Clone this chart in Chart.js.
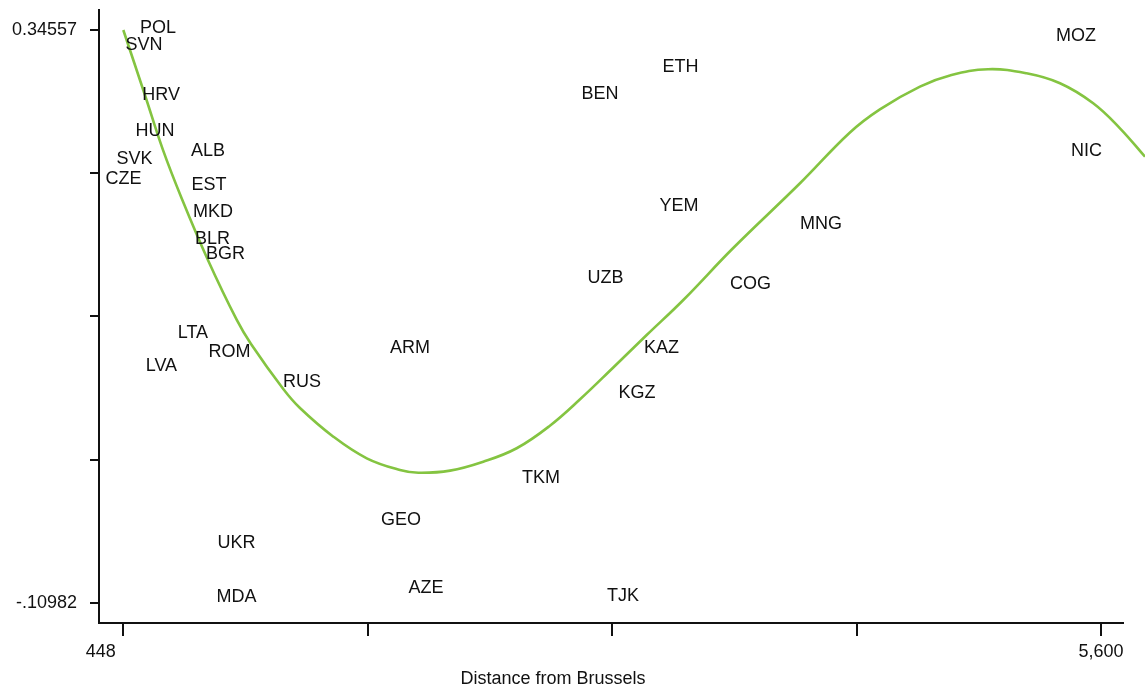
<!DOCTYPE html>
<html>
<head>
<meta charset="utf-8">
<script src="https://cdn.jsdelivr.net/npm/chart.js@4.4.1/dist/chart.umd.min.js"></script>
<style>
  html, body { margin: 0; padding: 0; background: #ffffff; }
  canvas { display: block; }
</style>
</head>
<body>
<canvas id="chart" width="1145" height="688"></canvas>
<script>
// Country markers: ISO-style code, distance from Brussels (km), outcome value
const countryCodes = ['POL', 'SVN', 'HRV', 'HUN', 'ALB', 'SVK', 'CZE', 'EST', 'MKD', 'BLR', 'BGR',
  'LTA', 'ROM', 'LVA', 'RUS', 'ARM', 'UKR', 'MDA', 'GEO', 'AZE', 'TJK', 'TKM', 'KGZ', 'KAZ',
  'UZB', 'BEN', 'ETH', 'YEM', 'COG', 'MNG', 'MOZ', 'NIC'];
const distances = [631, 557, 647, 615, 894, 507, 449, 900, 921, 918, 987,
  815, 1008, 649, 1390, 1959, 1045, 1045, 1911, 2043, 3081, 2649, 3155, 3284,
  2989, 2960, 3384, 3376, 3753, 4125, 5468, 5524];
const values = [0.3480, 0.3344, 0.2947, 0.2661, 0.2502, 0.2434, 0.2275, 0.2227, 0.2020, 0.1798, 0.1679,
  0.1054, 0.0899, 0.0788, 0.0665, 0.0931, -0.0612, -0.1049, -0.0433, -0.0973, -0.1041, -0.0095, 0.0573, 0.0931,
  0.1488, 0.2951, 0.3173, 0.2064, 0.1444, 0.1921, 0.3416, 0.2502];

// Fitted curve, sampled along the distance range
const fitDistances = [448, 562, 657, 757, 894, 1046, 1121, 1291, 1379, 1555, 1731, 1906, 2003, 2170,
  2345, 2521, 2696, 2855, 3030, 3206, 3399, 3662, 4014, 4277, 4435, 4646, 4804, 5005, 5208, 5384,
  5559, 5700, 5832];
const fitValues = [0.34557, 0.2939, 0.2502, 0.2112, 0.1627, 0.1150, 0.0959, 0.0601, 0.0450, 0.0222, 0.0050,
  -0.0043, -0.0065, -0.0048, 0.0023, 0.0130, 0.0309, 0.0519, 0.0772, 0.1030, 0.1309, 0.1722, 0.2237, 0.2641,
  0.2825, 0.3006, 0.3094, 0.3144, 0.3111, 0.3032, 0.2873, 0.2674, 0.2448];

// Axis ticks
const xTickValues = [448, 1736, 3024, 4312, 5600];
const xTickLabels = ['448         ', '', '', '', '5,600'];
const yTickValues = [-0.10982, 0.004028, 0.117875, 0.231723, 0.34557];
const yTickLabels = ['-.10982', '', '', '', '0.34557'];
const xAxisTitle = 'Distance from Brussels';

const FONT = "'Liberation Sans', Arial, Helvetica, sans-serif";
const INK = '#111111';
const FIT_GREEN = '#84c441';

// Writes each country code centred on its point
const codeLabels = {
  id: 'codeLabels',
  afterDatasetsDraw(chart) {
    const ctx = chart.ctx;
    const meta = chart.getDatasetMeta(0);
    ctx.save();
    ctx.font = '18px ' + FONT;
    ctx.fillStyle = INK;
    ctx.textAlign = 'center';
    ctx.textBaseline = 'middle';
    meta.data.forEach((pt, i) => {
      ctx.fillText(countryCodes[i], pt.x, pt.y + 1);
    });
    ctx.restore();
  }
};

// Horizontal axis caption under the tick labels
const axisCaption = {
  id: 'axisCaption',
  afterDraw(chart) {
    const ctx = chart.ctx;
    ctx.save();
    ctx.font = '18px ' + FONT;
    ctx.fillStyle = INK;
    ctx.textAlign = 'center';
    ctx.textBaseline = 'middle';
    ctx.fillText(xAxisTitle, 553, 679);
    ctx.restore();
  }
};

new Chart(document.getElementById('chart'), {
  type: 'scatter',
  data: {
    datasets: [
      {
        label: 'Countries',
        data: distances.map((d, i) => ({ x: d, y: values[i] })),
        pointRadius: 0,
        pointHoverRadius: 0,
        showLine: false
      },
      {
        label: 'Fit',
        data: fitDistances.map((d, i) => ({ x: d, y: fitValues[i] })),
        showLine: true,
        borderColor: FIT_GREEN,
        borderWidth: 2.6,
        pointRadius: 0,
        pointHoverRadius: 0,
        fill: false,
        tension: 0.4,
        clip: false
      }
    ]
  },
  options: {
    responsive: false,
    animation: false,
    devicePixelRatio: 1,
    layout: { padding: { top: 10, right: 22, left: 0, bottom: 0 } },
    plugins: {
      legend: { display: false },
      tooltip: { enabled: false }
    },
    scales: {
      x: {
        type: 'linear',
        min: 320,
        max: 5716,
        afterBuildTicks(scale) {
          scale.ticks = xTickValues.map(v => ({ value: v }));
        },
        afterFit(scale) {
          scale.height = 65;
          scale.paddingLeft = 0;
          scale.paddingRight = 0;
        },
        grid: {
          drawOnChartArea: false,
          drawTicks: true,
          tickLength: 13,
          tickWidth: 2,
          tickColor: INK,
          lineWidth: 2,
          color: INK
        },
        border: { display: true, color: INK, width: 2 },
        ticks: {
          autoSkip: false,
          maxRotation: 0,
          padding: 5,
          color: INK,
          font: { family: FONT, size: 18 },
          callback: (value, index) => xTickLabels[index]
        }
      },
      y: {
        type: 'linear',
        min: -0.12596,
        max: 0.36147,
        afterBuildTicks(scale) {
          scale.ticks = yTickValues.map(v => ({ value: v }));
        },
        afterFit(scale) {
          scale.width = 99;
          scale.paddingTop = 0;
          scale.paddingBottom = 0;
        },
        grid: {
          drawOnChartArea: false,
          drawTicks: true,
          tickLength: 9,
          tickWidth: 2,
          tickColor: INK,
          lineWidth: 2,
          color: INK
        },
        border: { display: true, color: INK, width: 2 },
        ticks: {
          autoSkip: false,
          padding: 13,
          color: INK,
          font: { family: FONT, size: 18 },
          callback: (value, index) => yTickLabels[index]
        }
      }
    }
  },
  plugins: [codeLabels, axisCaption]
});
</script>
</body>
</html>
